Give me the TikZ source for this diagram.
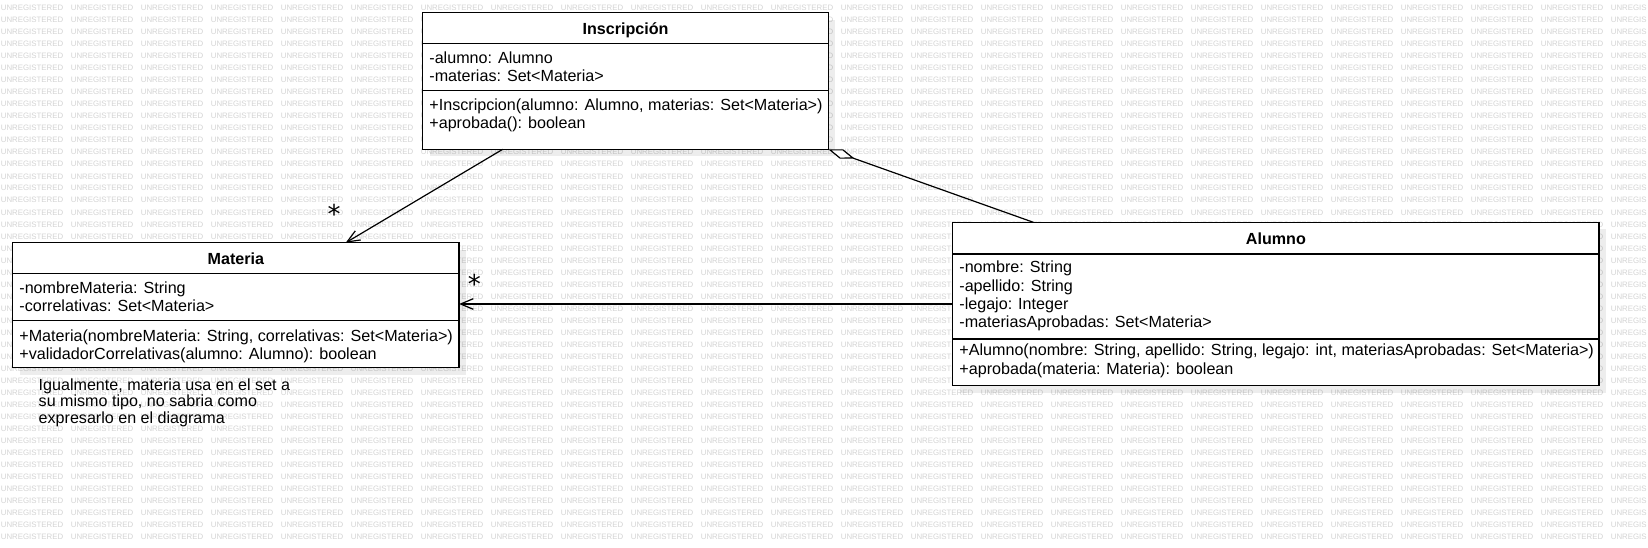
\documentclass[tikz,border=0pt]{standalone}
\usepackage{fontspec}
\setmainfont{Liberation Sans}
\newfontfamily\starfont{DejaVu Sans}
\usetikzlibrary{arrows.meta,calc}

\def\wmword{\makebox[70pt][l]{UNREGISTERED}}
\def\wmrow{\wmword\wmword\wmword\wmword\wmword\wmword\wmword\wmword\wmword\wmword\wmword\wmword\wmword\wmword\wmword\wmword\wmword\wmword\wmword\wmword\wmword\wmword\wmword UNREGIS}

\begin{document}
\begin{tikzpicture}[x=1pt,y=-1pt,
  wm/.style={anchor=base west, inner sep=0pt, text=black!17, font=\fontsize{7.85}{8}\selectfont},
  classbox/.style={draw, line width=1.2pt, fill=white, inner sep=0pt, outer sep=0pt},
  shadowbox/.style={fill=black, fill opacity=0.07, inner sep=0pt, outer sep=0pt},
  divider/.style={line width=1.2pt},
  ctitle/.style={font=\fontsize{16.1}{18}\selectfont\bfseries, anchor=base, inner sep=0pt},
  member/.style={font=\fontsize{16.12}{18}\selectfont, anchor=base west, inner sep=0pt},
  notetext/.style={font=\fontsize{16.1}{18}\selectfont, anchor=base west, inner sep=0pt},
  mult/.style={font=\starfont\fontsize{26}{28}\selectfont, anchor=base, inner sep=0pt},
  conn/.style={line width=1.2pt},
  openarrow/.style={conn, -{Straight Barb[length=12.7pt, width=10.6pt, line width=1.2pt]}},
  aggr/.style={conn, {Diamond[open, fill=white, length=28pt, width=10pt, line width=1.2pt]}-}
]
\useasboundingbox (0,0) rectangle (1648,548);
\fill[white] (0,0) rectangle (1648,548);

% watermark
\foreach \k in {0,...,44}
  \node[wm] (wm\k) at (0.7, 11+12*\k) {\wmrow};

% shadows
\node[shadowbox, minimum width=405.6pt, minimum height=136.6pt] (inscsh) at (632.5, 88) {};
\node[shadowbox, minimum width=446.3pt, minimum height=125pt] (matsh) at (242.9, 312.2) {};
\node[shadowbox, minimum width=646.3pt, minimum height=163.4pt] (alush) at (1282.9, 311) {};

% Inscripción
\node[classbox, minimum width=405.6pt, minimum height=136.6pt] (insc) at (625.5, 81) {};
\draw[divider] (insc.west |- 0,43.3) -- (insc.east |- 0,43.3);
\draw[divider] (insc.west |- 0,90.7) -- (insc.east |- 0,90.7);
\node[ctitle] (inscT) at (625.5, 34.3) {Inscripción};
\node[member] (inscA1) at (429.2, 63.3) {-alumno: Alumno};
\node[member] (inscA2) at (429.2, 81.3) {-materias: Set<Materia>};
\node[member] (inscM1) at (429.2, 111) {+Inscripcion(alumno: Alumno, materias: Set<Materia>)};
\node[member] (inscM2) at (429.2, 129) {+aprobada(): boolean};

% Materia
\node[classbox, minimum width=446.3pt, minimum height=125pt] (mat) at (235.9, 305.2) {};
\draw[divider] (mat.west |- 0,273.3) -- (mat.east |- 0,273.3);
\draw[divider] (mat.west |- 0,320.7) -- (mat.east |- 0,320.7);
\node[ctitle] (matT) at (235.9, 264.3) {Materia};
\node[member] (matA1) at (19.2, 293.3) {-nombreMateria: String};
\node[member] (matA2) at (19.2, 311.3) {-correlativas: Set<Materia>};
\node[member] (matM1) at (19.2, 341) {+Materia(nombreMateria: String, correlativas: Set<Materia>)};
\node[member] (matM2) at (19.2, 359) {+validadorCorrelativas(alumno: Alumno): boolean};

% Alumno
\node[classbox, minimum width=646.3pt, minimum height=163.4pt] (alu) at (1275.9, 304) {};
\draw[divider] (alu.west |- 0,254) -- (alu.east |- 0,254);
\draw[divider] (alu.west |- 0,339) -- (alu.east |- 0,339);
\node[ctitle] (aluT) at (1275.9, 244.3) {Alumno};
\node[member] (aluA1) at (959.2, 272.7) {-nombre: String};
\node[member] (aluA2) at (959.2, 291) {-apellido: String};
\node[member] (aluA3) at (959.2, 309.3) {-legajo: Integer};
\node[member] (aluA4) at (959.2, 327.7) {-materiasAprobadas: Set<Materia>};
\node[member] (aluM1) at (959.2, 355.5) {+Alumno(nombre: String, apellido: String, legajo: int, materiasAprobadas: Set<Materia>)};
\node[member] (aluM2) at (959.2, 374) {+aprobada(materia: Materia): boolean};

% note
\node[notetext] (note1) at (38.5, 390) {Igualmente, materia usa en el set a};
\node[notetext] (note2) at (38.5, 406.7) {su mismo tipo, no sabria como};
\node[notetext] (note3) at (38.5, 423.3) {expresarlo en el diagrama};

% connectors
\draw[openarrow] ([xshift=80pt]insc.south west) -- ([xshift=333pt]mat.north west);
\draw[openarrow] (alu.west) -- (mat.east |- alu.west);
\draw[aggr] (insc.south east) -- ([xshift=80.6pt]alu.north west);

% multiplicities
\node[mult] (m1) at (334, 223) {*};
\node[mult] (m2) at (474.3, 293) {*};
\end{tikzpicture}
\end{document}
